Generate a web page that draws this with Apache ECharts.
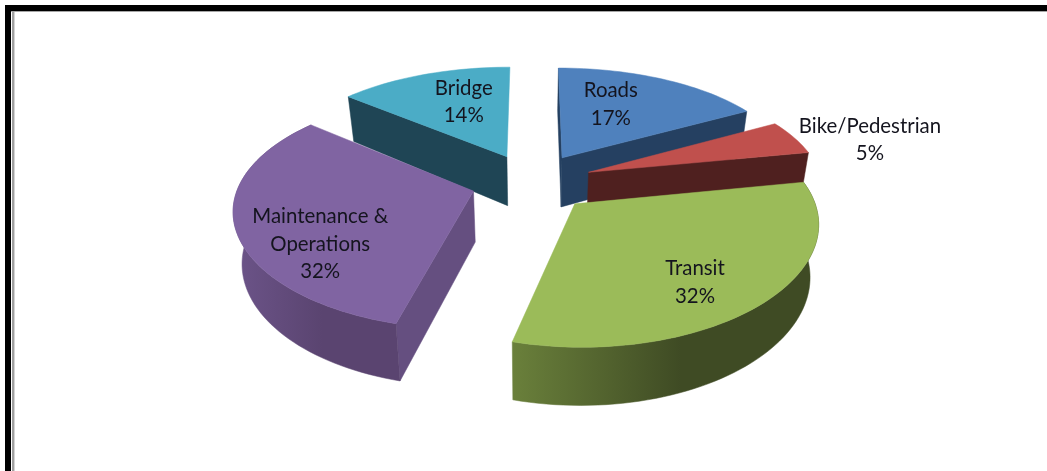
<!DOCTYPE html>
<html>
<head>
<meta charset="utf-8">
<style>
html, body { margin: 0; padding: 0; background: #fff; }
#chart { width: 1047px; height: 471px; }
</style>
<script src="https://cdn.jsdelivr.net/npm/echarts@6/dist/echarts.min.js"></script>
</head>
<body>
<div id="chart"></div>
<script>
'use strict';

const categories = ['Roads', 'Bike/Pedestrian', 'Transit', 'Maintenance &\nOperations', 'Bridge'];
const values = [17, 5, 32, 32, 14];

const topColors = ['#4f81bd', '#c0504d', '#9bbb59', '#8064a2', '#4bacc6'];
const wallColors = ['#254061', '#4f201f', '#3f4b24', '#654f80', '#1f4555'];
// rim shading runs left to right, only the two big front slices show it
const rimStops = [
    ['#254061', '#254061'],
    ['#4f201f', '#4f201f'],
    ['#6a803b', '#3f4b24'],
    ['#6c5489', '#5a4470'],
    ['#1f4555', '#1f4555']
];
// which cut faces can be seen from the camera
const startWall = [true, false, false, true, true];
const endWall = [true, true, false, false, false];
const labelNudge = [[-14, -4], [156, -11], [12, 22.5], [-13, 31], [9, -3]];

// tilted pie model, all slices pulled out by the same amount
const cx = 532, cy = 182, rx = 234, ry = 111.8;
const perspX = 0.14, perspY = 0.164, explode = 0.26;

const total = values.reduce((a, b) => a + b, 0);

function project(X, Y) {
    return [cx + rx * X / (1 - perspX * Y), cy + ry * Y / (1 - perspY * Y), Y];
}

function onSlice(mid, r, ang) {
    return project(
        explode * Math.sin(mid) + r * Math.sin(ang),
        -explode * Math.cos(mid) - r * Math.cos(ang)
    );
}

// bottom of the extrusion under a top point
function drop(p) {
    return [cx + (p[0] - cx) * 0.97, p[1] + 50.5 + 6.5 * p[2]];
}

let acc = 0;
const slices = values.map((v, i) => {
    const start = acc / total * Math.PI * 2;
    acc += v;
    const end = acc / total * Math.PI * 2;
    return { index: i, start: start, end: end, mid: (start + end) / 2 };
});
// paint back to front
const rows = slices.slice().sort((a, b) => Math.cos(b.mid) - Math.cos(a.mid)).map(s => [s.index]);

function poly(points, fill) {
    return {
        type: 'polygon',
        shape: { points: points.map(p => [p[0], p[1]]) },
        style: { fill: fill, stroke: fill, lineWidth: 0.5 },
        silent: true
    };
}

function renderItem(params, api) {
    const i = api.value(0);
    const s = slices[i];
    const apex = onSlice(s.mid, 0, 0);
    const arc = [];
    const steps = Math.max(8, Math.round(values[i] * 2));
    for (let k = 0; k <= steps; k++) {
        arc.push(onSlice(s.mid, 1, s.start + (s.end - s.start) * k / steps));
    }
    const first = arc[0];
    const last = arc[arc.length - 1];
    const xs = arc.map(p => p[0]);
    const rimFill = new echarts.graphic.LinearGradient(
        Math.min.apply(null, xs), 0, Math.max.apply(null, xs), 0,
        [
            { offset: 0, color: rimStops[i][0] },
            { offset: 0.55, color: rimStops[i][1] },
            { offset: 1, color: rimStops[i][1] }
        ],
        true
    );
    const label = onSlice(s.mid, 0.6, s.mid);
    const children = [];
    if (startWall[i]) children.push(poly([apex, first, drop(first), drop(apex)], wallColors[i]));
    if (endWall[i]) children.push(poly([apex, last, drop(last), drop(apex)], wallColors[i]));
    // the rim only shows on slices reaching the front half
    if (Math.cos(s.start) < 0 || Math.cos(s.end) < 0) {
        children.push(poly(arc.concat(arc.slice().reverse().map(drop)), rimFill));
    }
    children.push(poly([apex].concat(arc), topColors[i]));
    children.push({
        type: 'text',
        silent: true,
        z2: 10,
        style: {
            text: categories[i] + '\n' + values[i] + '%',
            x: label[0] + labelNudge[i][0],
            y: label[1] + labelNudge[i][1],
            align: 'center',
            verticalAlign: 'middle',
            fontFamily: 'Lato',
            fontSize: 20.4,
            lineHeight: 27.5,
            fill: '#14141e'
        }
    });
    return { type: 'group', children: children };
}

const chart = echarts.init(document.getElementById('chart'), null, { renderer: 'canvas' });

chart.setOption({
    animation: false,
    backgroundColor: '#fff',
    graphic: [
        { type: 'rect', shape: { x: 5, y: 5, width: 1042, height: 6 }, style: { fill: '#000' } },
        { type: 'rect', shape: { x: 5, y: 5, width: 6, height: 466 }, style: { fill: '#000' } },
        { type: 'rect', shape: { x: 11, y: 11, width: 1036, height: 1 }, style: { fill: '#a6a6a6' } },
        { type: 'rect', shape: { x: 12, y: 11, width: 2, height: 460 }, style: { fill: '#a0a0a0' } },
        { type: 'rect', shape: { x: 14, y: 12, width: 1, height: 459 }, style: { fill: '#d4d4d4' } }
    ],
    series: [{
        type: 'custom',
        coordinateSystem: 'none',
        renderItem: renderItem,
        data: rows,
        silent: true
    }]
});
</script>
</body>
</html>
